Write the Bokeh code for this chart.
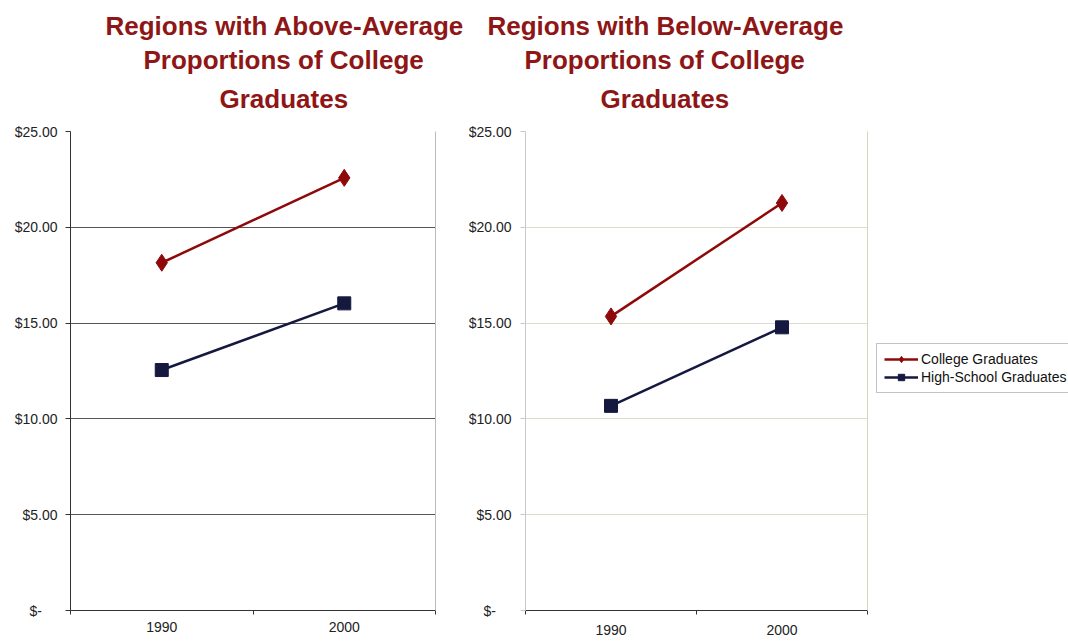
from bokeh.plotting import figure
from bokeh.models import (Range1d, FixedTicker, LinearAxis, Title, Legend, LegendItem)
from bokeh.layouts import row
from bokeh.embed import file_html
from bokeh.resources import INLINE

years = ["1990", "2000"]
series_names = ["College Graduates", "High-School Graduates"]
above_college = [18.15, 22.58]
above_highschool = [12.55, 16.03]
below_college = [15.35, 21.27]
below_highschool = [10.68, 14.78]
y_ticks = [0, 5, 10, 15, 20, 25]
y_tick_labels = ["$-\u00a0\u00a0\u00a0\u00a0", "$5.00", "$10.00", "$15.00", "$20.00", "$25.00"]
titles_left = ["Regions with Above-Average", "Proportions of College", "Graduates"]
titles_right = ["Regions with Below-Average", "Proportions of College", "Graduates"]

RED = "#8e0a0a"
NAVY = "#15193f"
TITLE_RED = "#8e1616"
FONT = "Liberation Sans"

x_pos = [i + 0.5 for i in range(len(years))]


def make_fig(width, border_left, border_right, border_top, border_bottom, label_standoff,
             ylabel_standoff, titles, title_offsets, title_standoffs, college, highschool,
             grid_color, axis_color, right_color):
    p = figure(width=width, height=643, output_backend="svg", toolbar_location=None,
               x_range=Range1d(0, len(years)), y_range=Range1d(0, 25),
               min_border_left=border_left, min_border_right=border_right,
               min_border_top=border_top, min_border_bottom=border_bottom,
               background_fill_color="white", border_fill_color="white")
    p.outline_line_color = None
    p.title = None
    valigns = ["top", "bottom", "top"]
    for t, off, so, va in reversed(list(zip(titles, title_offsets, title_standoffs, valigns))):
        p.add_layout(Title(text=t, align="left", vertical_align=va, text_font=FONT,
                           text_font_size="26px", text_font_style="bold", text_color=TITLE_RED,
                           standoff=so, offset=off), "above")
    # x axis
    xa = p.xaxis[0]
    xa.ticker = FixedTicker(ticks=x_pos, minor_ticks=list(range(len(years) + 1)))
    xa.major_label_overrides = {x: y for x, y in zip(x_pos, years)}
    xa.major_tick_line_color = None
    xa.minor_tick_line_color = "#333333"
    xa.minor_tick_out = 4
    xa.minor_tick_in = 0
    xa.axis_line_color = "#333333"
    xa.major_label_text_font = FONT
    xa.major_label_text_font_size = "14px"
    xa.major_label_text_color = "#222222"
    xa.major_label_standoff = label_standoff
    # y axis
    ya = p.yaxis[0]
    ya.ticker = FixedTicker(ticks=y_ticks, minor_ticks=[])
    ya.major_label_overrides = {t: l for t, l in zip(y_ticks, y_tick_labels)}
    ya.axis_line_color = axis_color
    ya.major_tick_line_color = axis_color
    ya.major_tick_out = 5
    ya.major_tick_in = 0
    ya.major_label_text_font = FONT
    ya.major_label_text_font_size = "14px"
    ya.major_label_text_color = "#222222"
    ya.major_label_standoff = ylabel_standoff
    ra = LinearAxis(ticker=FixedTicker(ticks=[], minor_ticks=[]), axis_line_color=right_color,
                    major_tick_line_color=None, minor_tick_line_color=None)
    p.add_layout(ra, "right")
    p.xgrid.grid_line_color = None
    p.ygrid.grid_line_color = grid_color
    p.ygrid.ticker = FixedTicker(ticks=y_ticks[1:], minor_ticks=[])

    p.line(x_pos, college, line_color=RED, line_width=2.5)
    p.scatter(x_pos, college, marker="diamond", size=17, fill_color=RED, line_color=RED)
    p.line(x_pos, highschool, line_color=NAVY, line_width=2.5)
    p.scatter(x_pos, highschool, marker="square", size=13, fill_color=NAVY, line_color=NAVY)
    return p


left = make_fig(465, 70, 30, 131, 30, 5, 8, titles_left, [35, 73, 149], [16, -15, 32],
                above_college, above_highschool, "#555555", "#333333", "#bbbbbb")
right = make_fig(405, 58, 3, 131, 33, 8, 9, titles_right, [-38, -1, 75], [16, -15, 32],
                 below_college, below_highschool, "#dcdcd0", "#c8c8c8", "#d8d8b8")

# legend-only panel to the right of the second chart
leg = figure(width=198, height=643, output_backend="svg", toolbar_location=None,
             x_range=Range1d(0, len(years)), y_range=Range1d(0, 25),
             x_axis_location=None, y_axis_location=None, min_border=0,
             background_fill_color="white", border_fill_color="white")
leg.outline_line_color = None
leg.xgrid.grid_line_color = None
leg.ygrid.grid_line_color = None
lc = leg.line(x_pos, below_college, line_color=RED, line_width=2.5, visible=False)
sc = leg.scatter(x_pos, below_college, marker="diamond", size=17, fill_color=RED, line_color=RED,
                 visible=False)
lh = leg.line(x_pos, below_highschool, line_color=NAVY, line_width=2.5, visible=False)
sh = leg.scatter(x_pos, below_highschool, marker="square", size=13, fill_color=NAVY,
                 line_color=NAVY, visible=False)
legend = Legend(items=[LegendItem(label=series_names[0], renderers=[lc, sc]),
                       LegendItem(label=series_names[1], renderers=[lh, sh])],
                location=(6, 217), label_text_font=FONT, label_text_font_size="14px",
                label_text_color="#111111", border_line_color="#888888", border_line_width=1,
                glyph_width=34, glyph_height=16, label_standoff=3, spacing=2, padding=7,
                margin=0, background_fill_alpha=1.0, inactive_fill_alpha=0.0)
leg.add_layout(legend, "center")

layout = row(left, right, leg)
open("out.html", "w").write(file_html(layout, INLINE))
